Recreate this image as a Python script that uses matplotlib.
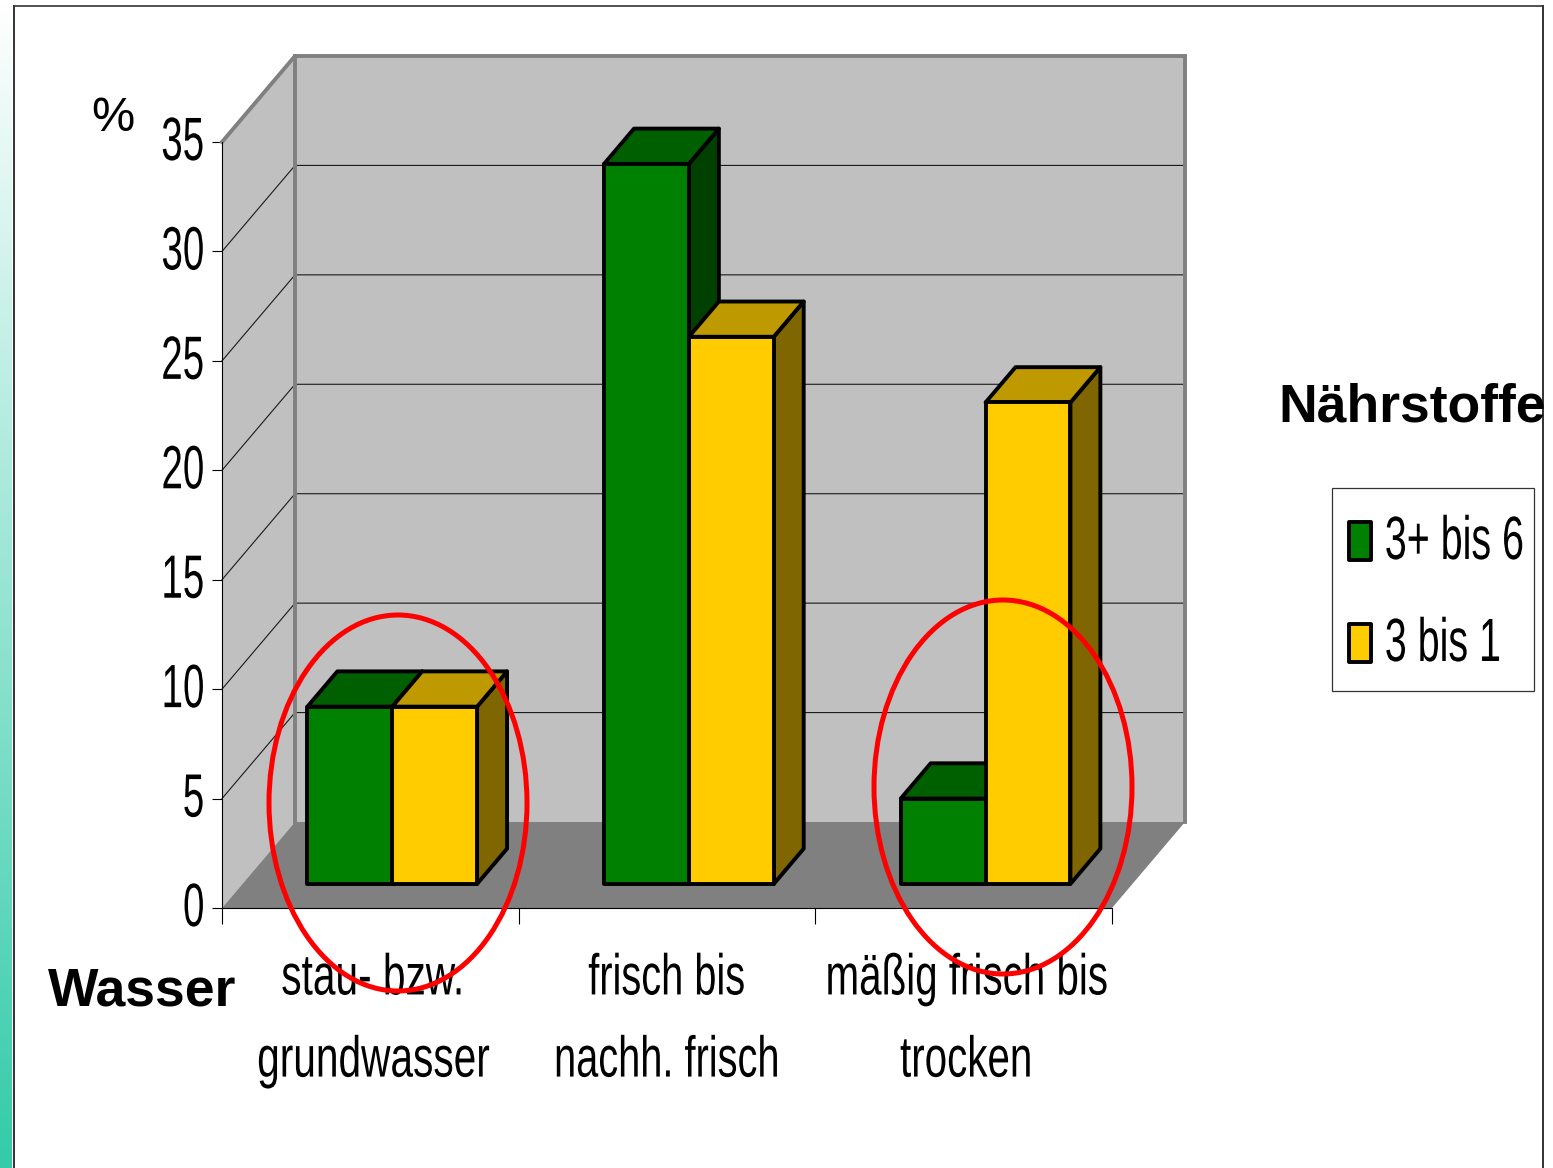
import numpy as np
import matplotlib
matplotlib.use("Agg")
import matplotlib.pyplot as plt
from matplotlib.patches import Polygon, Ellipse, Rectangle
from matplotlib.patheffects import AbstractPathEffect
from matplotlib.transforms import Affine2D, Bbox

W, H = 1553, 1168

categories = ["stau- bzw.\ngrundwasser", "frisch bis\nnachh. frisch", "mäßig frisch bis\ntrocken"]
series_names = ["3+ bis 6", "3 bis 1"]
values_green = [8.1, 32.9, 3.9]
values_yellow = [8.1, 25.0, 22.0]
y_ticks = [0, 5, 10, 15, 20, 25, 30, 35]

FONT = ["Liberation Sans", "DejaVu Sans"]

GREEN = ("#008000", "#006000", "#004000")   # front, top, side
YELLOW = ("#FFCC00", "#BF9900", "#806600")


# the chart uses a very condensed arial, no such font here so squeeze the glyphs
class Squeeze(AbstractPathEffect):
    def __init__(self, sx, anchor, dx, dy):
        super().__init__()
        self.sx, self.anchor, self.dx, self.dy = sx, anchor, dx, dy

    def draw_path(self, renderer, gc, tpath, affine, rgbFace=None):
        box = tpath.get_extents()
        x0 = {"left": box.x0, "center": (box.x0 + box.x1) / 2, "right": box.x1}[self.anchor]
        local = Affine2D().translate(-x0, 0).scale(self.sx, 1).translate(x0, 0)
        shift = Affine2D().translate(self.dx, self.dy)
        renderer.draw_path(gc, tpath, local + affine + shift, rgbFace)


def squeeze(t, sx, anchor="center", dx=0, dy=0):
    t.set_path_effects([Squeeze(sx, anchor, dx, dy)])
    orig = t.get_window_extent

    def extent(renderer=None, dpi=None):
        b = orig(renderer, dpi)
        w = b.width * sx
        x0 = {"left": b.x0, "center": b.x0 + (b.width - w) / 2, "right": b.x1 - w}[anchor]
        return Bbox.from_bounds(x0 + dx, b.y0 + dy, w, b.height)

    t.get_window_extent = extent
    return t


fig = plt.figure(figsize=(W / 100, H / 100), dpi=100, facecolor="white")

# axes box = front plane of the chart, 222..1112 / 908..142 px
ax = fig.add_axes([222 / W, 1 - 908 / H, 890 / W, 766 / H])
ax.set_xlim(0, 3)
ax.set_ylim(0, 35)
ax.patch.set_visible(False)

# depth of the 3d box in data units
DX = 73 / (890 / 3)
DY = 86 / (766 / 35)


def pt(x, v, d):
    return (x + d * DX, v + d * DY)


def poly(points, fc, ec="none", lw=0, z=1):
    ax.add_patch(Polygon(points, closed=True, fc=fc, ec=ec, lw=lw, zorder=z,
                         clip_on=False, joinstyle="round"))


# walls and floor
poly([pt(0, 0, 0), pt(0, 35, 0), pt(0, 35, 1), pt(0, 0, 1)], "#C0C0C0")
poly([pt(0, 0, 1), pt(0, 35, 1), pt(3, 35, 1), pt(3, 0, 1)], "#C0C0C0")
poly([pt(0, 0, 0), pt(3, 0, 0), pt(3, 0, 1), pt(0, 0, 1)], "#808080")

for t in y_ticks[1:-1]:
    a, b, c = pt(0, t, 0), pt(0, t, 1), pt(3, t, 1)
    ax.plot([a[0], b[0], c[0]], [a[1], b[1], c[1]], color="#1a1a1a", lw=0.8,
            zorder=2, clip_on=False)

fr = [pt(0, 35, 0), pt(0, 35, 1), pt(3, 35, 1), pt(3, 0, 1)]
ax.plot([p[0] for p in fr], [p[1] for p in fr], color="#808080", lw=2.8, zorder=2,
        clip_on=False, solid_joinstyle="miter")
b = [pt(0, 0, 1), pt(0, 35, 1)]
ax.plot([p[0] for p in b], [p[1] for p in b], color="#808080", lw=2.8, zorder=2, clip_on=False)


def bar3d(x0, x1, v, colors, z):
    d0, d1 = 0.28, 0.69
    edge = dict(ec="black", lw=2.8, z=z)
    poly([pt(x1, 0, d0), pt(x1, v, d0), pt(x1, v, d1), pt(x1, 0, d1)], colors[2], **edge)
    poly([pt(x0, v, d0), pt(x1, v, d0), pt(x1, v, d1), pt(x0, v, d1)], colors[1], **edge)
    poly([pt(x0, 0, d0), pt(x1, 0, d0), pt(x1, v, d0), pt(x0, v, d0)], colors[0], **edge)


w = 0.286
for i in range(len(categories)):
    c = i + 0.505
    bar3d(c - w, c, values_green[i], GREEN, 3 + i)
    bar3d(c, c + w, values_yellow[i], YELLOW, 3.5 + i)

# axes, ticks
for s in ("top", "right"):
    ax.spines[s].set_visible(False)
for s in ("left", "bottom"):
    ax.spines[s].set_linewidth(0.8)
    ax.spines[s].set_zorder(2.5)

ax.set_yticks(y_ticks)
ax.set_yticklabels([str(t) for t in y_ticks], fontsize=44, family=FONT)
ax.tick_params(axis="y", length=7, width=0.8, pad=5)
for lab in ax.get_yticklabels():
    squeeze(lab, 0.63, "right", dy=4)

ax.set_xticks([0, 1, 2, 3])
ax.set_xticklabels([])
ax.tick_params(axis="x", which="major", length=11.5, width=0.8)
ax.set_xticks([0.5, 1.5, 2.5], minor=True)
ax.set_xticklabels(categories, minor=True, fontsize=41.5, family=FONT, linespacing=1.67)
ax.tick_params(axis="x", which="minor", length=0, pad=32)
for lab, sx, dx in zip(ax.get_xticklabels(minor=True), [0.705, 0.69, 0.70], [3, 0, 3]):
    squeeze(lab, sx, "center", dx=dx)


def px(x, y):
    return x / W, 1 - y / H


fig.text(*px(91, 131), "%", fontsize=35, family=FONT, ha="left", va="baseline")
fig.text(*px(48, 1006), "Wasser", fontsize=38.5, family=FONT, weight="bold", ha="left", va="baseline")
fig.text(*px(1278, 422), "Nährstoffe", fontsize=38.5, family=FONT, weight="bold", ha="left", va="baseline")

# slide decoration, legend and hand drawn circles on top
ov = fig.add_axes([0, 0, 1, 1])
ov.axis("off")
ov.patch.set_visible(False)

top = np.array([1.0, 1.0, 1.0])
bottom = np.array([0x33, 0xCB, 0xA9]) / 255
ramp = np.linspace(0, 1, 256)[:, None, None]
ov.imshow(top * (1 - ramp) + bottom * ramp, extent=(0, 12, H, 0), aspect="auto", zorder=1)
ov.set_xlim(0, W)
ov.set_ylim(H, 0)
ov.plot([14, 14], [6, H], color="#333333", lw=1.4, zorder=2)
ov.plot([14, 1543], [6, 6], color="#333333", lw=1.2, zorder=2)
ov.plot([1543, 1543], [6, H], color="#333333", lw=1.4, zorder=2)

# legend, the squeezed labels would break the layout of a real legend box
ov.add_patch(Rectangle((1332, 488), 202, 203, fc="white", ec="#333333", lw=0.9, zorder=3))
for name, colour, y0 in zip(series_names, (GREEN[0], YELLOW[0]), (522, 624)):
    ov.add_patch(Rectangle((1349, y0), 22, 38, fc=colour, ec="black", lw=2.8, zorder=4,
                           joinstyle="round"))
    lab = ov.text(1384, y0 + 37, name, fontsize=44, family=FONT, ha="left", va="baseline", zorder=4)
    squeeze(lab, 0.645, "left")

ov.add_patch(Ellipse((398, 803), 258, 376, fc="none", ec="#FF0000", lw=3.6, zorder=5))
ov.add_patch(Ellipse((1003, 787), 258, 374, fc="none", ec="#FF0000", lw=3.6, zorder=5))

plt.savefig("out.png", dpi=100)
